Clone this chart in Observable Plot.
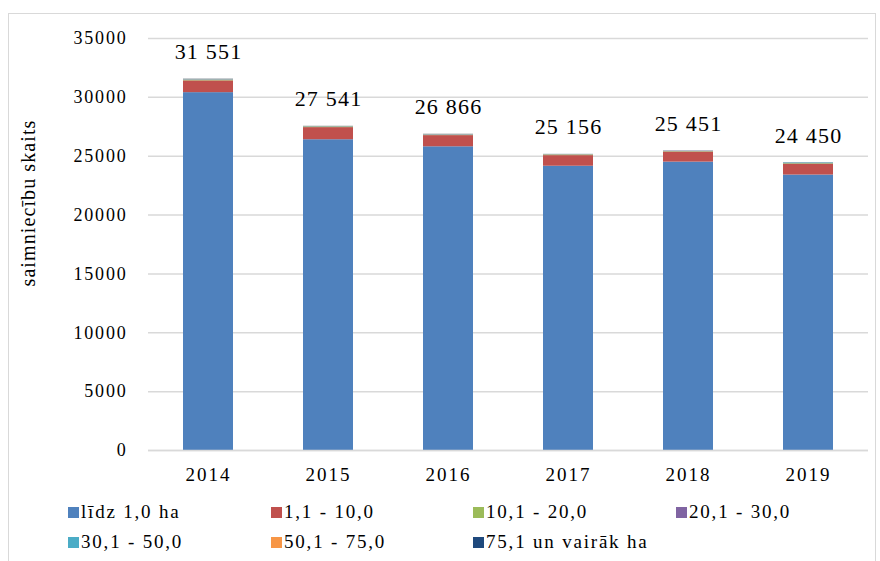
<!DOCTYPE html>
<html><head><meta charset="utf-8">
<script src="https://cdn.jsdelivr.net/npm/d3@7"></script>
<script src="https://cdn.jsdelivr.net/npm/@observablehq/plot@0.6"></script>
<style>
body{margin:0;background:#fff;font-family:"Liberation Serif","Times New Roman",serif;}
#frame{position:absolute;left:8px;top:13px;width:868px;height:600px;border:1px solid #d9d9d9;box-sizing:border-box;}
#chart{position:absolute;left:0;top:0;}
#legend{position:absolute;left:0;top:500px;width:880px;font-size:19px;color:#000;}
.li{position:absolute;display:flex;align-items:center;white-space:nowrap;letter-spacing:1.8px;height:22px;}
.sw{width:11px;height:11px;margin-right:2px;}
</style></head>
<body>
<div id="frame"></div>
<div id="chart"></div>
<div id="legend"></div>
<script>
const years = ["2014","2015","2016","2017","2018","2019"];
const series = ["līdz 1,0 ha","1,1 - 10,0","10,1 - 20,0","20,1 - 30,0","30,1 - 50,0","50,1 - 75,0","75,1 un vairāk ha"];
const colors = ["#4F81BD","#C0504D","#9BBB59","#8064A2","#4BACC6","#F79646","#1F497D"];
const s0 = [30400, 26400, 25800, 24150, 24500, 23400];
const s1 = [1000, 1030, 950, 900, 850, 900];
const s2 = [70, 60, 50, 55, 40, 60];
const s3 = [30, 20, 30, 20, 35, 20];
const s4 = [25, 15, 15, 12, 10, 50];
const s5 = [10, 6, 8, 9, 6, 8];
const s6 = [16, 10, 13, 10, 10, 12];
const totals = [31551, 27541, 26866, 25156, 25451, 24450];
const yTicks = [0,5000,10000,15000,20000,25000,30000,35000];

const seriesValues = [s0,s1,s2,s3,s4,s5,s6];
const rows = [];
years.forEach((yr,i)=>{ series.forEach((s,j)=>rows.push({year:yr, series:s, value:seriesValues[j][i]})); });
const totalRows = years.map((yr,i)=>({year:yr, total:totals[i], label:String(totals[i]).replace(/\B(?=(\d{3})+(?!\d))/g," ")}));

const plot = Plot.plot({
  width:880, height:495,
  marginTop:38, marginBottom:45, marginLeft:148, marginRight:12,
  style:{fontFamily:"'Liberation Serif','Times New Roman',serif", fontSize:"18px", color:"#000", background:"transparent"},
  x:{domain:years, paddingInner:0.583, paddingOuter:0.29, label:null, tickSize:0, tickPadding:17},
  y:{domain:[0,35000], ticks:yTicks, label:null, tickSize:0, tickPadding:21, tickFormat:d=>String(d)},
  color:{domain:series, range:colors},
  marks:[
    Plot.gridY(yTicks,{stroke:"#d9d9d9", strokeOpacity:1, strokeWidth:1.5}),
    Plot.barY(rows,{x:"year", y:"value", fill:"series", order:series}),
    Plot.text(totalRows,{x:"year", y:"total", text:"label", dy:-27, fontSize:22, fill:"#000"}),
    Plot.ruleY([0],{stroke:"#d9d9d9", strokeWidth:1.5})
  ]
});
document.getElementById("chart").appendChild(plot);
d3.select(plot).selectAll("g[aria-label='y-axis tick label'] text").attr("letter-spacing","1.8px");
d3.select(plot).selectAll("g[aria-label='x-axis tick label'] text").attr("letter-spacing","2px").attr("font-size","19px");
d3.select(plot).selectAll("g[aria-label='text'] text").attr("letter-spacing","1.2px");
d3.select(plot).append("text")
  .attr("transform","translate(30,203) rotate(-90)")
  .attr("text-anchor","middle").attr("dominant-baseline","middle")
  .attr("font-size","20px").attr("font-family","'Liberation Serif','Times New Roman',serif")
  .attr("letter-spacing","1.1px").attr("fill","#000")
  .text("saimniecību skaits");

const pos = [[68,512],[271,512],[473,512],[676,512],[68,542],[271,542],[473,542]];
const leg = document.getElementById("legend");
series.forEach((s,i)=>{
  const d = document.createElement("div");
  d.className="li";
  d.style.left=pos[i][0]+"px"; d.style.top=(pos[i][1]-500-11)+"px";
  d.innerHTML = `<span class="sw" style="background:${colors[i]}"></span><span>${s}</span>`;
  leg.appendChild(d);
});
</script>
</body></html>
